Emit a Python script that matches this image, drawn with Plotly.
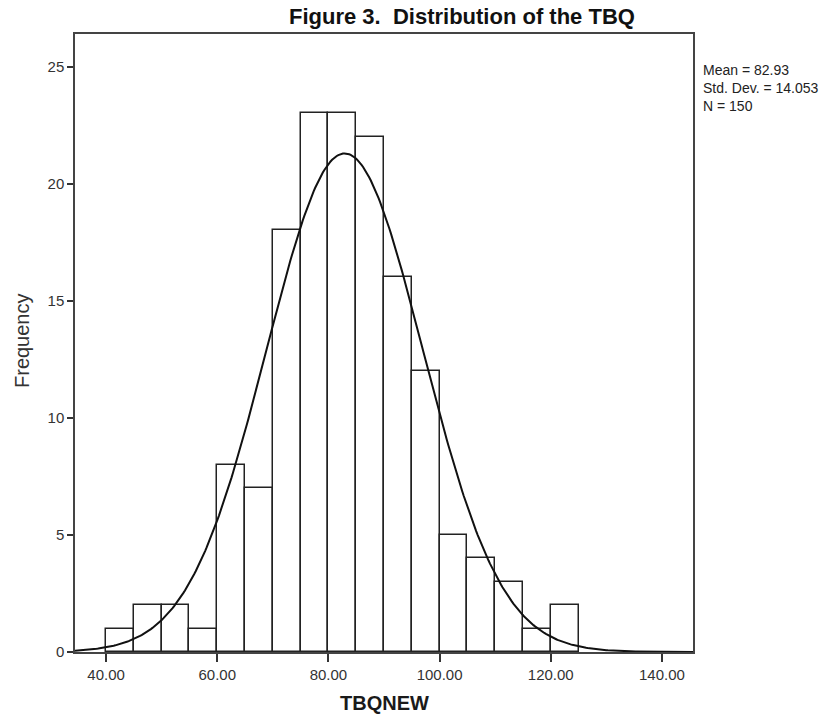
import numpy as np
import plotly.graph_objects as go

bin_starts = [40, 45, 50, 55, 60, 65, 70, 75, 80, 85, 90, 95, 100, 105, 110, 115, 120]
counts = [1, 2, 2, 1, 8, 7, 18, 23, 23, 22, 16, 12, 5, 4, 3, 1, 2]
bin_width = 5
mean_val = 82.93
std_val = 14.053
n_val = 150
x_ticks = [40, 60, 80, 100, 120, 140]
y_ticks = [0, 5, 10, 15, 20, 25]

FONT = "Arial, Liberation Sans, sans-serif"

centers = [b + bin_width / 2 for b in bin_starts]

xs = np.linspace(34.4, 145.6, 400)
ys = n_val * bin_width / (std_val * np.sqrt(2 * np.pi)) * np.exp(-0.5 * ((xs - mean_val) / std_val) ** 2)

# plot area in pixels
L, R, T, B = 75, 693, 34, 652
W, H = R - L, B - T


def px(xp):
    return (xp - L) / W


def py(yp):
    return (B - yp) / H


fig = go.Figure()
fig.add_trace(go.Bar(
    x=centers, y=counts, width=bin_width,
    marker=dict(color="white", line=dict(color="#222222", width=1.5)),
    showlegend=False, hoverinfo="skip"))
fig.add_trace(go.Scatter(
    x=xs, y=ys, mode="lines", line=dict(color="#111111", width=2),
    showlegend=False, hoverinfo="skip"))

stats_text = "<br>".join([f"Mean = {mean_val:.2f}", f"Std. Dev. = {std_val:.3f}", f"N = {n_val}"])

annotations = [
    dict(text="<b>Figure 3.  Distribution of the TBQ</b>", xref="paper", yref="paper",
         x=px(462), y=py(17), xanchor="center", yanchor="middle",
         showarrow=False, font=dict(size=22, family=FONT, color="#111111")),
    dict(text="<b>TBQNEW</b>", xref="paper", yref="paper",
         x=px(384), y=py(703), xanchor="center", yanchor="middle",
         showarrow=False, font=dict(size=20, family=FONT, color="#1a1a1a")),
    dict(text="Frequency", xref="paper", yref="paper", textangle=-90,
         x=px(22), y=py(341), xanchor="center", yanchor="middle",
         showarrow=False, font=dict(size=20, family=FONT, color="#333333")),
    dict(text=stats_text, xref="paper", yref="paper", align="left",
         x=px(702), y=py(88), xanchor="left", yanchor="middle", borderpad=0,
         showarrow=False, font=dict(size=14, family=FONT, color="#222222")),
]

fig.update_layout(
    width=838, height=714,
    margin=dict(l=L, r=838 - R, t=T, b=714 - B),
    paper_bgcolor="white", plot_bgcolor="white",
    font=dict(family=FONT, color="#333333"),
    bargap=0,
    xaxis=dict(range=[34.4, 145.6], tickvals=x_ticks,
               ticktext=[f"{v:.2f}" for v in x_ticks],
               ticks="outside", ticklen=8, tickwidth=1.5, tickcolor="#333333",
               showline=True, linecolor="#444444", linewidth=1.5, mirror=True,
               showgrid=False, zeroline=False, automargin=False,
               tickfont=dict(size=15, family=FONT, color="#333333")),
    yaxis=dict(range=[0, 26.39], tickvals=y_ticks,
               ticks="outside", ticklen=6, tickwidth=1.5, tickcolor="#333333",
               showline=True, linecolor="#444444", linewidth=1.5, mirror=True,
               showgrid=False, zeroline=False, automargin=False,
               tickfont=dict(size=15, family=FONT, color="#333333")),
    annotations=annotations,
)

fig.write_html("out.html", config={"displayModeBar": False},
               post_script="document.body.style.margin='0';document.body.style.overflow='hidden';")
